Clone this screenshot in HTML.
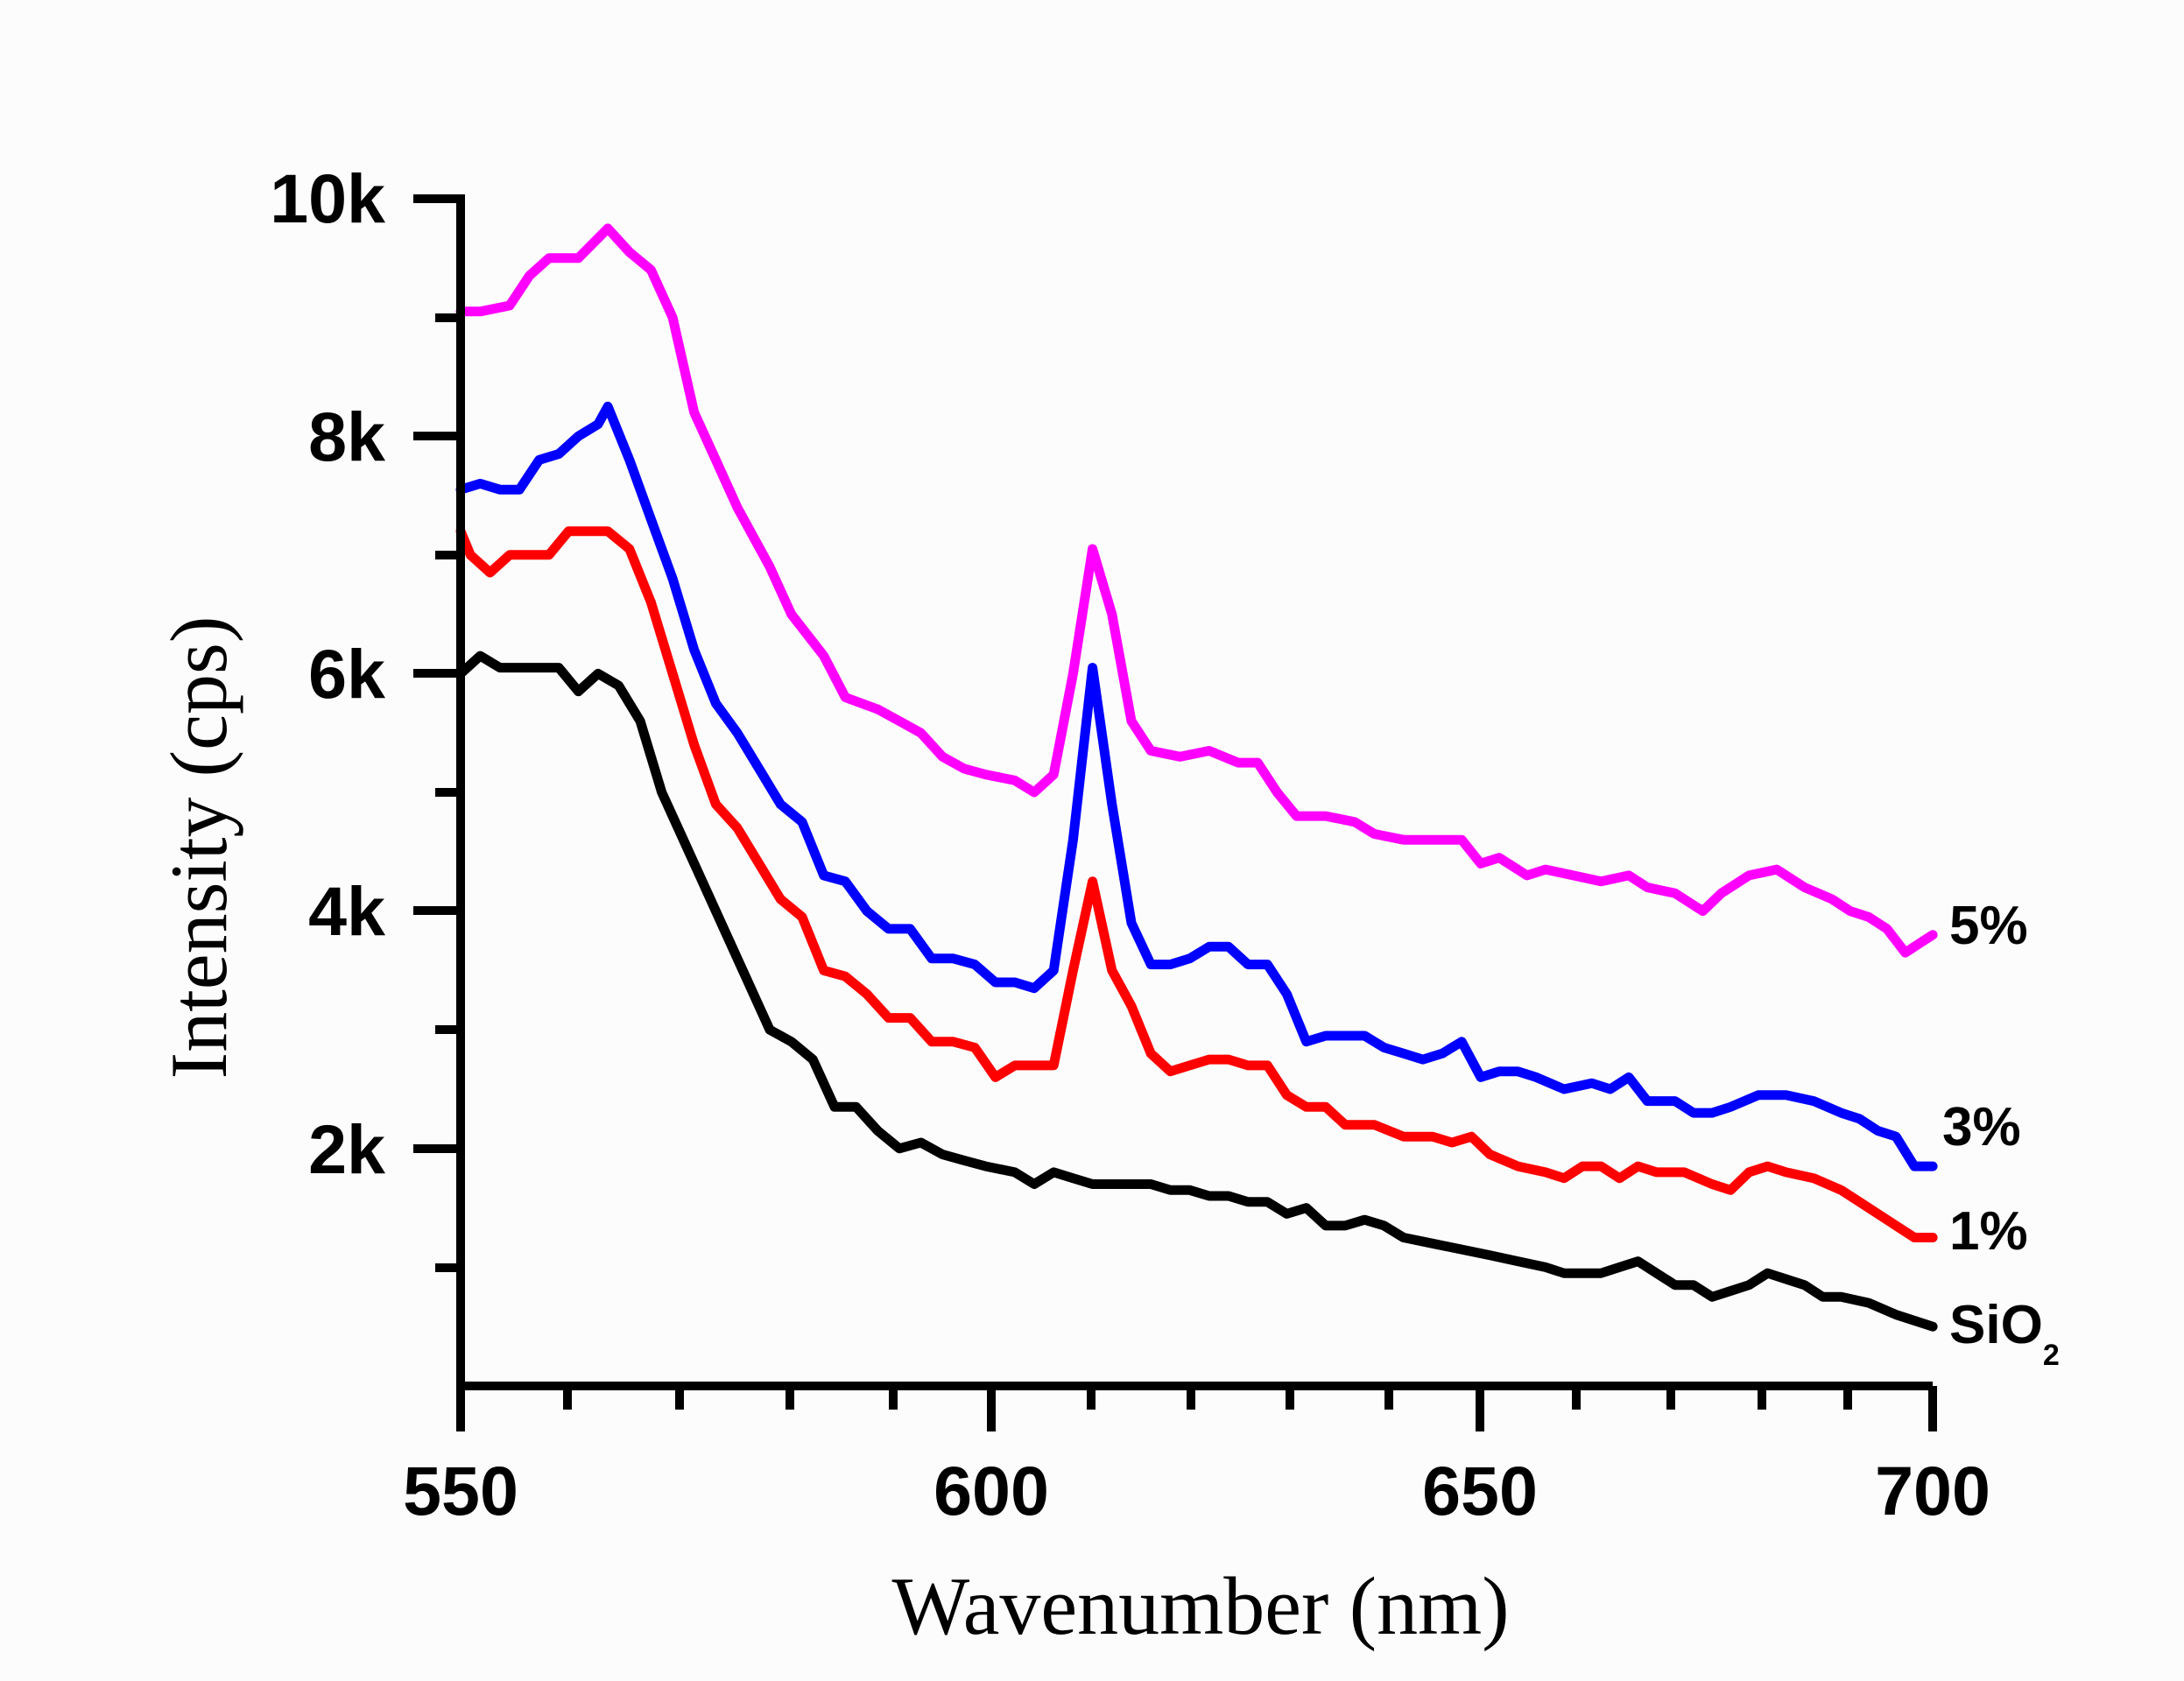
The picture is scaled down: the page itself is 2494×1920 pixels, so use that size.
<!DOCTYPE html>
<html><head><meta charset="utf-8"><style>
html,body{margin:0;padding:0;background:#fcfcfc;}
svg{display:block}
</style></head><body>
<svg id="s" width="2494" height="1920" viewBox="0 0 2494 1920" xmlns="http://www.w3.org/2000/svg">
<rect width="2494" height="1920" fill="#fcfcfc"/>
<g fill="none" stroke-width="11" stroke-linejoin="round" stroke-linecap="round">
<polyline id="p5" stroke="#ff00ff" points=""/>
<polyline id="p3" stroke="#0000ff" points=""/>
<polyline id="p1" stroke="#ff0000" points=""/>
<polyline id="p0" stroke="#000000" points=""/>
</g>
<g stroke="#000" stroke-width="10" fill="none">
<path d="M526,222 V1588 M521,1583 H2207"/>
<path d="M472,227 H526 M472,498 H526 M472,769 H526 M472,1040 H526 M472,1312 H526"/>
<path d="M497,363 H526 M497,634 H526 M497,905 H526 M497,1176 H526 M497,1448 H526"/>
<path d="M526,1583 V1635 M1132,1583 V1635 M1690,1583 V1635 M2207,1583 V1635"/>
<path d="M648,1583 V1610 M776,1583 V1610 M902,1583 V1610 M1020,1583 V1610 M1246,1583 V1610 M1360,1583 V1610 M1473,1583 V1610 M1586,1583 V1610 M1800,1583 V1610 M1908,1583 V1610 M2012,1583 V1610 M2110,1583 V1610"/>
</g>
<g font-family="Liberation Sans, sans-serif" font-weight="bold" font-size="79" fill="#000" text-anchor="end">
<text x="440" y="254">10k</text>
<text x="440" y="526">8k</text>
<text x="440" y="797">6k</text>
<text x="440" y="1068">4k</text>
<text x="440" y="1340">2k</text>
</g>
<g font-family="Liberation Sans, sans-serif" font-weight="bold" font-size="79" fill="#000" text-anchor="middle">
<text x="526" y="1730">550</text>
<text x="1132" y="1730">600</text>
<text x="1690" y="1730">650</text>
<text x="2207" y="1730">700</text>
</g>
<g font-family="Liberation Sans, sans-serif" font-weight="bold" font-size="62" fill="#000">
<text x="2226" y="1078">5%</text>
<text x="2218" y="1308">3%</text>
<text x="2226" y="1427">1%</text>
<text x="2226" y="1534">SiO<tspan font-size="34" dy="25">2</tspan></text>
</g>
<text x="1371" y="1866" text-anchor="middle" font-family="Liberation Serif, serif" font-size="94" fill="#000">Wavenumber (nm)</text>
<text transform="translate(258,968) rotate(-90)" text-anchor="middle" font-family="Liberation Serif, serif" font-size="92" fill="#000">Intensity (cps)</text>
</svg>
<script>
var D={
p5:"550,9.05 552,9.05 555,9.1 557,9.35 559,9.5 562,9.5 565,9.75 567,9.55 569,9.4 571,9.0 573,8.2 575,7.8 577,7.4 580,6.9 582,6.5 585,6.15 587,5.8 590,5.7 592,5.6 594,5.5 596,5.3 598,5.2 600,5.15 603,5.1 605,5.0 607,5.15 609,6.0 611,7.05 613,6.5 615,5.6 617,5.35 620,5.3 623,5.35 626,5.25 628,5.25 630,5.0 632,4.8 635,4.8 638,4.75 640,4.65 643,4.6 646,4.6 649,4.6 651,4.4 653,4.45 656,4.3 658,4.35 661,4.3 664,4.25 667,4.3 669,4.2 672,4.15 675,4.0 677,4.15 680,4.3 683,4.35 686,4.2 689,4.1 691,4.0 693,3.95 695,3.85 697,3.65 699,3.75 700,3.8",
p3:"550,7.55 552,7.6 554,7.55 556,7.55 558,7.8 560,7.85 562,8.0 564,8.1 565,8.25 567,7.8 569,7.3 571,6.8 573,6.2 575,5.75 577,5.5 579,5.2 581,4.9 583,4.75 585,4.3 587,4.25 589,4.0 591,3.85 593,3.85 595,3.6 597,3.6 599,3.55 601,3.4 603,3.4 605,3.35 607,3.5 609,4.6 611,6.05 613,4.9 615,3.9 617,3.55 619,3.55 621,3.6 623,3.7 625,3.7 627,3.55 629,3.55 631,3.3 633,2.9 635,2.95 637,2.95 639,2.95 641,2.85 643,2.8 645,2.75 647,2.8 649,2.9 651,2.6 653,2.65 655,2.65 657,2.6 660,2.5 663,2.55 665,2.5 667,2.6 669,2.4 672,2.4 674,2.3 676,2.3 678,2.35 681,2.45 684,2.45 687,2.4 690,2.3 692,2.25 694,2.15 696,2.1 698,1.85 700,1.85",
p1:"550,7.2 551,7.0 553,6.85 555,7.0 557,7.0 559,7.0 561,7.2 563,7.2 565,7.2 567,7.05 569,6.6 571,6.0 573,5.4 575,4.9 577,4.7 579,4.4 581,4.1 583,3.95 585,3.5 587,3.45 589,3.3 591,3.1 593,3.1 595,2.9 597,2.9 599,2.85 601,2.6 603,2.7 605,2.7 607,2.7 609,3.5 611,4.25 613,3.5 615,3.2 617,2.8 619,2.65 621,2.7 623,2.75 625,2.75 627,2.7 629,2.7 631,2.45 633,2.35 635,2.35 637,2.2 640,2.2 643,2.1 646,2.1 648,2.05 650,2.1 652,1.95 655,1.85 658,1.8 660,1.75 662,1.85 664,1.85 666,1.75 668,1.85 670,1.8 673,1.8 676,1.7 678,1.65 680,1.8 682,1.85 684,1.8 687,1.75 690,1.65 692,1.55 695,1.4 698,1.25 700,1.25",
p0:"550,6.0 552,6.15 554,6.05 556,6.05 558,6.05 560,6.05 562,5.85 564,6.0 566,5.9 568,5.6 570,5.0 572,4.6 574,4.2 576,3.8 578,3.4 580,3.0 582,2.9 584,2.75 586,2.35 588,2.35 590,2.15 592,2.0 594,2.05 596,1.95 598,1.9 600,1.85 603,1.8 605,1.7 607,1.8 609,1.75 611,1.7 613,1.7 615,1.7 617,1.7 619,1.65 621,1.65 623,1.6 625,1.6 627,1.55 629,1.55 631,1.45 633,1.5 635,1.35 637,1.35 639,1.4 641,1.35 643,1.25 646,1.2 649,1.15 652,1.1 655,1.05 658,1.0 660,0.95 662,0.95 664,0.95 666,1.0 668,1.05 670,0.95 672,0.85 674,0.85 676,0.75 678,0.8 680,0.85 682,0.95 684,0.9 686,0.85 688,0.75 690,0.75 693,0.7 696,0.6 700,0.5"};
var K=[[550,0],[565,0],[600,3.5],[650,3],[685,1],[700,0]];
function off(x){for(var i=0;i<K.length-1;i++){if(x<=K[i+1][0]){var t=(x-K[i][0])/(K[i+1][0]-K[i][0]);return K[i][1]+t*(K[i+1][1]-K[i][1]);}}return 0;}
for(var id in D){var pts=D[id].split(" ").map(function(s){var a=s.split(",").map(Number);var x=a[0]+off(a[0]);return (526+(x-550)*11.207).toFixed(1)+","+(1583-a[1]*135.6).toFixed(1);});document.getElementById(id).setAttribute("points",pts.join(" "));}
</script>
</body></html>
